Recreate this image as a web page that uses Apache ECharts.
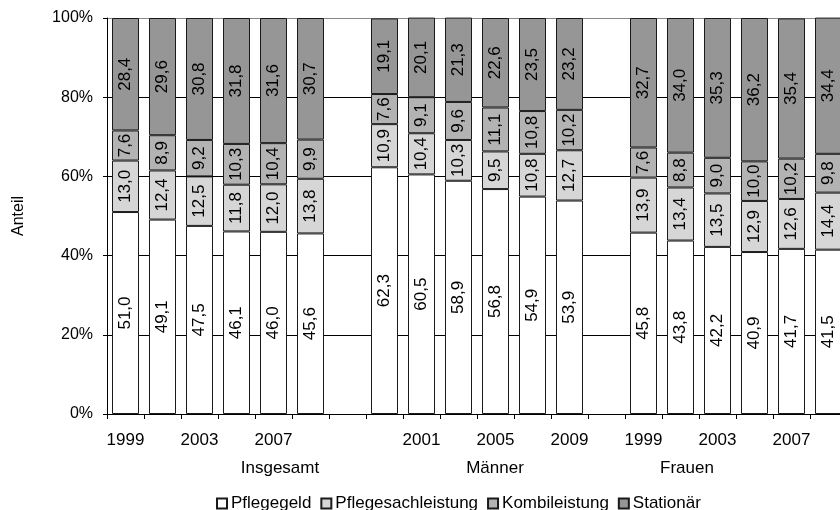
<!DOCTYPE html>
<html>
<head>
<meta charset="utf-8">
<title>Leistungsarten nach Geschlecht</title>
<script src="https://cdn.jsdelivr.net/npm/echarts@6/dist/echarts.min.js"></script>
<style>
  html, body { margin: 0; padding: 0; background: #fff; }
  #chart { width: 840px; height: 510px; }
</style>
</head>
<body>
<div id="chart"></div>
<script>
// Survey years shown within each group
var years = ['1999', '2001', '2003', '2005', '2007', '2009'];
var groups = ['Insgesamt', 'Männer', 'Frauen'];
var seriesNames = ['Pflegegeld', 'Pflegesachleistung', 'Kombileistung', 'Stationär'];
var yTicks = [0, 20, 40, 60, 80, 100];

// Shares in percent, per group
var pflegegeldInsgesamt = [51.0, 49.1, 47.5, 46.1, 46.0, 45.6];
var sachInsgesamt       = [13.0, 12.4, 12.5, 11.8, 12.0, 13.8];
var kombiInsgesamt      = [7.6, 8.9, 9.2, 10.3, 10.4, 9.9];
var stationaerInsgesamt = [28.4, 29.6, 30.8, 31.8, 31.6, 30.7];

var pflegegeldMaenner = [62.3, 60.5, 58.9, 56.8, 54.9, 53.9];
var sachMaenner       = [10.9, 10.4, 10.3, 9.5, 10.8, 12.7];
var kombiMaenner      = [7.6, 9.1, 9.6, 11.1, 10.8, 10.2];
var stationaerMaenner = [19.1, 20.1, 21.3, 22.6, 23.5, 23.2];

var pflegegeldFrauen = [45.8, 43.8, 42.2, 40.9, 41.7, 41.5];
var sachFrauen       = [13.9, 13.4, 13.5, 12.9, 12.6, 14.4];
var kombiFrauen      = [7.6, 8.8, 9.0, 10.0, 10.2, 9.8];
var stationaerFrauen = [32.7, 34.0, 35.3, 36.2, 35.4, 34.4];

var FONT = 'Liberation Sans, Arial, sans-serif';
var colors = ['#ffffff', '#d6d6d6', '#b3b3b3', '#969696'];

// Join the three groups with one empty slot between them
function joinGroups(a, b, c) {
  return a.concat([null], b, [null], c);
}
var categories = joinGroups(years, years, years).map(function (v) { return v === null ? '' : v; });

var seriesData = [
  joinGroups(pflegegeldInsgesamt, pflegegeldMaenner, pflegegeldFrauen),
  joinGroups(sachInsgesamt, sachMaenner, sachFrauen),
  joinGroups(kombiInsgesamt, kombiMaenner, kombiFrauen),
  joinGroups(stationaerInsgesamt, stationaerMaenner, stationaerFrauen)
];

function fmt(v) { return v.toFixed(1).replace('.', ','); }

var chart = echarts.init(document.getElementById('chart'), null, { renderer: 'canvas' });

var series = seriesNames.map(function (name, i) {
  return {
    name: name,
    type: 'bar',
    stack: 'anteil',
    barWidth: 27,
    data: seriesData[i],
    itemStyle: { color: colors[i], borderColor: '#1a1a1a', borderWidth: 1 },
    label: {
      show: true,
      position: 'inside',
      rotate: 90,
      fontFamily: FONT,
      fontSize: 17,
      color: '#000',
      formatter: function (p) { return p.value == null ? '' : fmt(p.value); }
    },
    emphasis: { disabled: true },
    animation: false
  };
});

// Group captions below the year labels
var groupX = [280, 495, 687];
var graphics = groups.map(function (g, i) {
  return {
    type: 'text',
    x: groupX[i],
    y: 468,
    style: {
      text: g, font: '17px ' + FONT, fill: '#000',
      textAlign: 'center', textVerticalAlign: 'middle'
    }
  };
});

chart.setOption({
  backgroundColor: '#fff',
  animation: false,
  grid: {
    left: 107, top: 18, width: 740, height: 396,
    containLabel: false, outerBoundsMode: 'none'
  },
  legend: {
    left: 211,
    top: 490,
    data: seriesNames,
    icon: 'rect',
    itemWidth: 10,
    itemHeight: 10,
    itemGap: 9,
    textStyle: { fontFamily: FONT, fontSize: 17, color: '#000', padding: [0, 0, 0, -1] },
    selectedMode: false
  },
  xAxis: {
    type: 'category',
    data: categories,
    axisLine: { lineStyle: { color: '#000', width: 1 } },
    axisTick: { show: true, interval: 0, length: 5, lineStyle: { color: '#000' } },
    axisLabel: { interval: 1, fontFamily: FONT, fontSize: 17, color: '#000', margin: 18 },
    splitLine: { show: false }
  },
  yAxis: {
    type: 'value',
    min: yTicks[0],
    max: yTicks[yTicks.length - 1],
    interval: yTicks[1] - yTicks[0],
    name: 'Anteil',
    nameLocation: 'middle',
    nameRotate: 90,
    nameGap: 80,
    nameTextStyle: { fontFamily: FONT, fontSize: 16, color: '#000' },
    axisLine: { show: true, lineStyle: { color: '#000', width: 1 } },
    axisTick: { show: true, length: 4, lineStyle: { color: '#000' } },
    axisLabel: { fontFamily: FONT, fontSize: 16, color: '#000', margin: 14, formatter: '{value}%' },
    splitLine: { show: true, lineStyle: { color: ['#000', '#000', '#000', '#000', '#000', '#888'], width: 1 } }
  },
  graphic: graphics,
  series: series
});
</script>
</body>
</html>
